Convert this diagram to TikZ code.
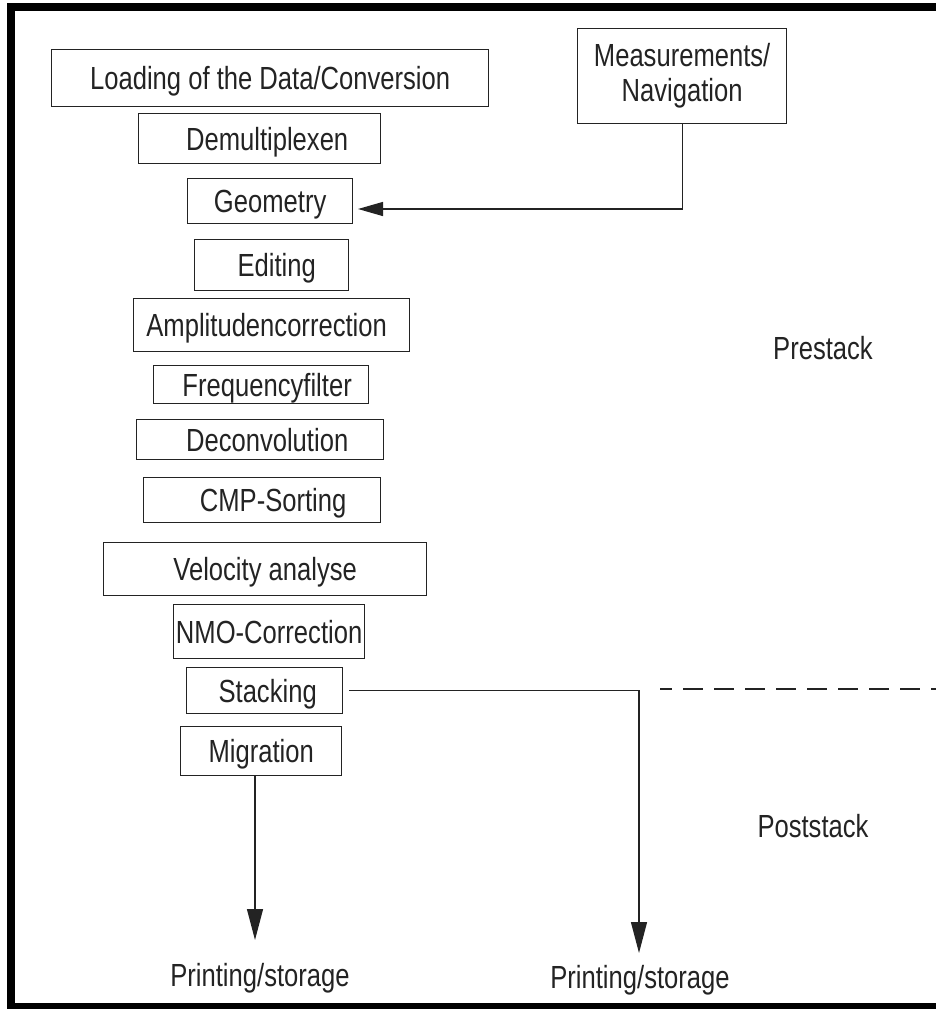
\documentclass[tikz,border=0pt]{standalone}
\usepackage{fontspec}
\setmainfont{Liberation Sans}[FakeStretch=0.80]
\usetikzlibrary{arrows.meta}
\definecolor{ink}{RGB}{35,35,35}
\begin{document}
\begin{tikzpicture}[x=1pt,y=-1pt,
  every node/.style={text=ink, font=\fontsize{32}{35}\selectfont},
  box/.style={draw=ink, line width=1.3pt, inner sep=0pt, anchor=north west,
    text height=23pt, text depth=0pt},
  conn/.style={draw=ink, line width=1.3pt},
  lefttip/.style={-{Triangle[length=25pt,width=14pt]}},
  downtip/.style={-{Triangle[length=31pt,width=16pt]}},
  lbl/.style={inner sep=0pt}
]
\useasboundingbox (0,0) rectangle (936,1009);
\clip (0,0) rectangle (936,1009);
% frame
\draw[black, line width=7.5pt] (950,6.75) -- (11,6.75) -- (11,1006.5) -- (950,1006.5);

% process boxes
\node[box, minimum width=437pt, minimum height=57pt] (load) at (51,49) {Loading of the Data/Conversion};
\node[box, minimum width=242pt, minimum height=50pt] (demux) at (138,113) {\hspace*{15pt}Demultiplexen};
\node[box, minimum width=165pt, minimum height=45pt] (geom) at (187,178) {Geometry};
\node[box, minimum width=154pt, minimum height=51pt] (edit) at (194,239) {\hspace*{10pt}Editing};
\node[box, minimum width=276pt, minimum height=53pt] (ampl) at (133,298) {Amplitudencorrection\hspace*{10pt}};
\node[box, minimum width=215pt, minimum height=38pt] (freq) at (153,365) {\hspace*{12pt}Frequencyfilter};
\node[box, minimum width=247pt, minimum height=40pt] (decon) at (136,419) {\hspace*{14pt}Deconvolution};
\node[box, minimum width=237pt, minimum height=45pt] (cmp) at (143,477) {\hspace*{22pt}CMP-Sorting};
\node[box, minimum width=323pt, minimum height=53pt] (vel) at (103,542) {Velocity analyse};
\node[box, minimum width=191pt, minimum height=54pt] (nmo) at (173,604) {NMO-Correction};
\node[box, minimum width=156pt, minimum height=46pt] (stack) at (186,667) {\hspace*{6pt}Stacking};
\node[box, minimum width=161pt, minimum height=49pt] (migr) at (180,726) {Migration};
\node[draw=ink, line width=1.3pt, inner sep=0pt, anchor=north west, align=center,
  minimum width=209pt, minimum height=95pt] (meas) at (577,28) {Measurements/\\Navigation};

% labels
\node[lbl] (pre) at (823,348) {Prestack};
\node[lbl] (post) at (813,826) {Poststack};
\node[lbl, anchor=base] (ps1) at (260,986) {Printing/storage};
\node[lbl, anchor=base] (ps2) at (640,988) {Printing/storage};

% connectors
\coordinate (gtip) at (358,209);
\draw[conn, lefttip] (meas.south) |- (gtip);

\coordinate (stip) at (639,953);
\draw[conn, downtip] ([xshift=6pt]stack.east) -| (stip);

\coordinate (mtip) at (255,940);
\draw[conn, downtip] (migr.south -| mtip) -- (mtip);

% prestack / poststack divider
\coordinate (d1) at (660,689);
\coordinate (d2) at (940,689);
\draw[ink, line width=2.3pt, dash pattern=on 20pt off 11pt, dash phase=8pt] (d1) -- (d2);
\end{tikzpicture}
\end{document}
